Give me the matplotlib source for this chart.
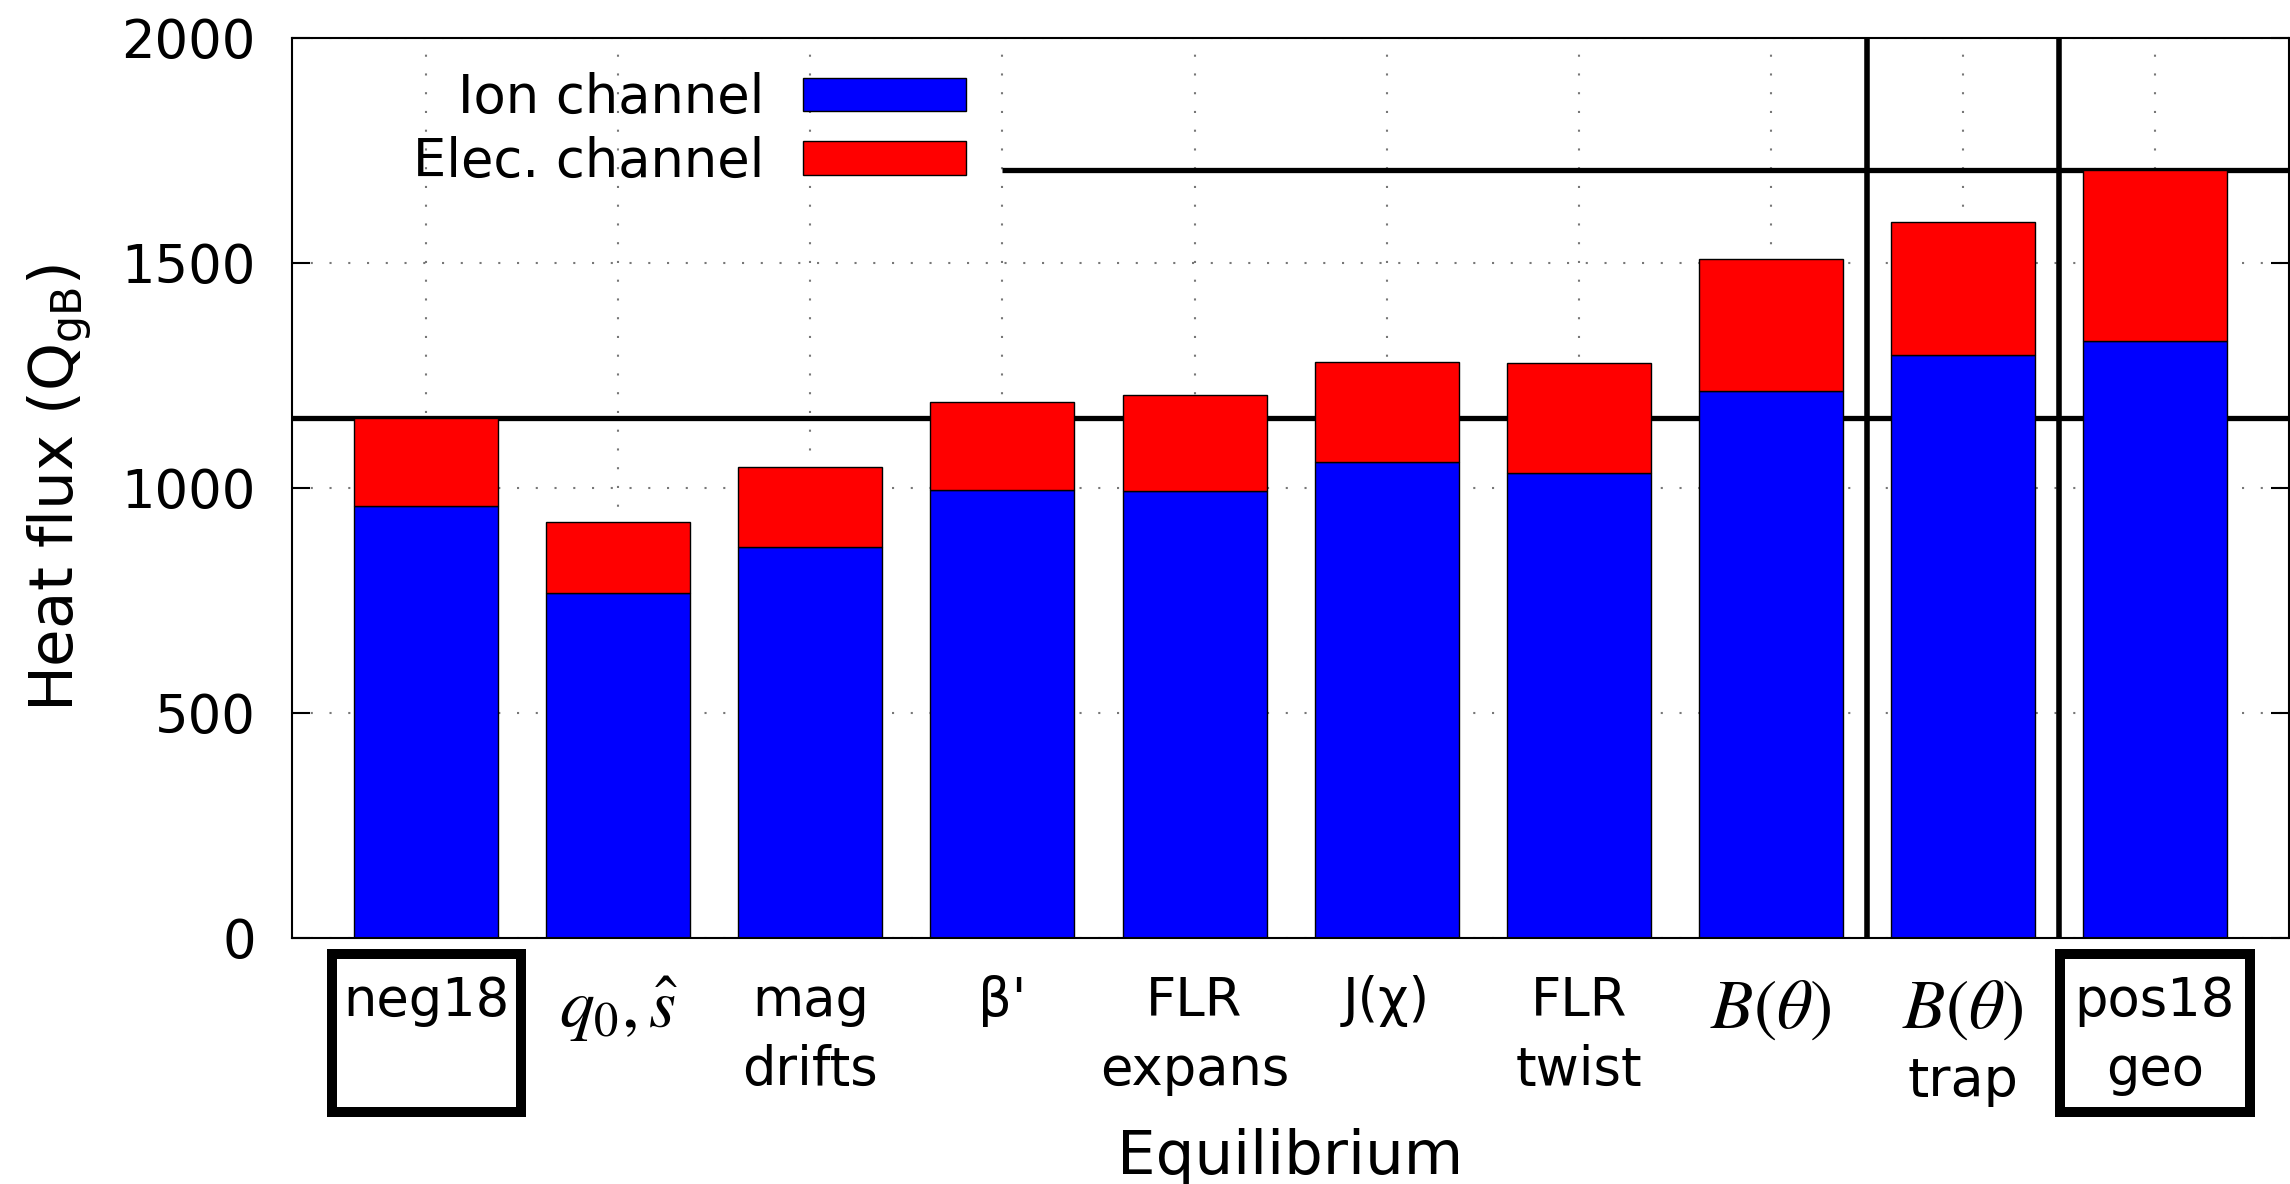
import matplotlib
matplotlib.use("Agg")
import matplotlib.pyplot as plt
from matplotlib.patches import Rectangle

plt.rcParams['font.family'] = ['DejaVu Sans']
plt.rcParams['mathtext.fontset'] = 'stix'
plt.rcParams['font.size'] = 38

##### DATA #####
labels = ["neg18", r"$q_0, \hat{s}$", "mag\ndrifts", "β'", "FLR\nexpans",
          "J(χ)", "FLR\ntwist", r"$B(\theta)$", "$B(\\theta)$\ntrap", "pos18\ngeo"]
ion = [959, 766, 868, 996, 993, 1057, 1034, 1216, 1296, 1327]
elec = [197, 159, 179, 195, 214, 223, 244, 293, 295, 380]
boxed = [0, 9]          # labels with a frame
split_after = [7, 8]    # vertical separators after these bars
yticks = [0, 500, 1000, 1500, 2000]

x = list(range(len(labels)))
total = [a + b for a, b in zip(ion, elec)]

##### PLOT #####
fig, ax = plt.subplots(figsize=(22.9, 11.84), dpi=100)
fig.subplots_adjust(left=0.1275, right=0.9996, bottom=0.208, top=0.968)

width = 0.75
b1 = ax.bar(x, ion, width, color='#0000ff', edgecolor='k', linewidth=1.0,
            label='Ion channel', zorder=2)
b2 = ax.bar(x, elec, width, bottom=ion, color='#ff0000', edgecolor='k',
            linewidth=1.0, label='Elec. channel', zorder=2)

ax.set_xlim(-0.7, len(labels) - 0.3)
ax.set_ylim(0, 2000)

# reference levels (neg18 and pos18 totals) and separators
ax.axhline(total[0], color='k', lw=3.8, zorder=1.5)
ax.hlines(total[-1], 3, len(labels), color='k', lw=3.8, zorder=1.5)
for i in split_after:
    ax.axvline(i + 0.5, color='k', lw=4, zorder=1.5)

ax.grid(True, linestyle=(0, (1, 8)), color='#777777', lw=1.5)
ax.set_axisbelow(True)

# math labels are drawn bigger; their plain second line goes separately
tick_text = [l.partition('\n')[0] if '$' in l else l for l in labels]
ax.set_xticks(x)
ax.set_xticklabels(tick_text, linespacing=1.4)
for i, t in enumerate(ax.get_xticklabels()):
    first, _, rest = labels[i].partition('\n')
    if '$' in first:
        t.set_fontsize(50)
        if rest:
            ax.text(i, -0.176, rest, transform=ax.get_xaxis_transform(),
                    ha='center', va='baseline', fontsize=39)
ax.set_yticks(yticks)
ax.tick_params(axis='x', length=0, pad=27)
ax.tick_params(axis='y', direction='in', length=13, width=1.5, pad=26,
               right=True)
for s in ax.spines.values():
    s.set_linewidth(1.5)

ax.set_ylabel(r"Heat flux ($\mathregular{Q_{gB}}$)", fontsize=44)
ax.yaxis.set_label_coords(-0.099, 0.5)
ax.set_xlabel("Equilibrium", fontsize=44)
ax.xaxis.set_label_coords(0.5, -0.211)

# frames around the first and last label
for i in boxed:
    r = Rectangle((i - 0.494, -0.1934), 0.988, 0.1753, fill=False,
                  edgecolor='k', lw=7.2, joinstyle='miter',
                  transform=ax.get_xaxis_transform(), clip_on=False)
    ax.add_patch(r)

ax.legend(handles=[b1, b2], markerfirst=False, loc='upper right',
          bbox_to_anchor=(0.4218, 0.939), bbox_transform=fig.transFigure,
          frameon=False, borderpad=0, borderaxespad=0, handlelength=3.09,
          handleheight=0.6, handletextpad=0.72, labelspacing=0.22)

fig.savefig("out.png", dpi=100)
